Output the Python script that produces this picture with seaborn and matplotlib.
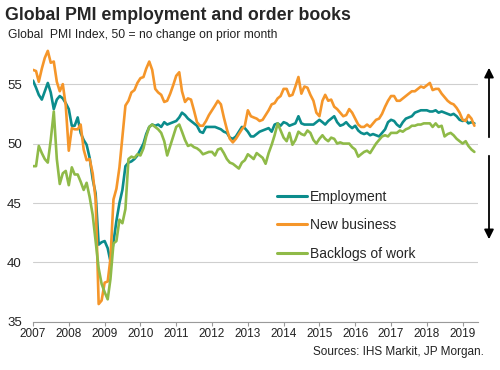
import matplotlib
matplotlib.use("Agg")
import matplotlib.pyplot as plt
import matplotlib.dates as mdates
import numpy as np
import pandas as pd
import seaborn as sns

# Global PMI sub-indices, monthly, Jan 2007 - May 2019
employment = [
    55.3, 54.7, 54.1, 53.7, 54.4, 55.1, 54.3, 52.9, 53.7, 54.0, 53.8, 53.4,  # 2007
    52.9, 51.5, 51.5, 52.2, 50.9, 50.3, 49.9, 48.8, 47.0, 45.8, 41.5, 41.7,  # 2008
    41.8, 41.2, 40.1, 41.7, 43.5, 45.0, 46.1, 48.1, 48.4, 48.5, 48.7, 49.0,  # 2009
    49.5, 50.0, 50.8, 51.4, 51.6, 51.5, 51.6, 51.4, 51.8, 51.6, 51.7, 51.8,  # 2010
    51.9, 52.2, 52.6, 52.4, 52.1, 51.9, 51.7, 51.5, 51.0, 50.9, 51.4, 51.4,  # 2011
    51.4, 51.4, 51.3, 51.2, 51.0, 50.9, 50.5, 50.4, 50.6, 51.0, 51.4, 51.3,  # 2012
    51.0, 50.6, 50.6, 50.8, 51.0, 51.1, 51.2, 51.3, 51.0, 51.6, 51.7, 51.5,  # 2013
    51.8, 51.7, 51.5, 51.6, 51.7, 52.3, 51.7, 51.6, 51.6, 51.6, 51.6, 51.8,  # 2014
    52.0, 51.8, 51.6, 51.9, 52.1, 52.3, 51.8, 51.5, 51.6, 51.8, 51.5, 51.3,  # 2015
    51.5, 51.1, 50.9, 50.8, 50.9, 50.7, 50.8, 50.7, 50.6, 50.9, 51.2, 51.8,  # 2016
    52.0, 51.9, 51.6, 51.4, 51.8, 52.1, 52.2, 52.3, 52.6, 52.7, 52.8, 52.8,  # 2017
    52.8, 52.7, 52.7, 52.8, 52.6, 52.7, 52.6, 52.5, 52.4, 52.5, 52.3, 52.0,  # 2018
    51.9, 52.0, 51.7, 51.8, 51.7,                                            # 2019
]

new_business = [
    56.2, 56.1, 55.2, 56.3, 57.2, 57.8, 56.8, 56.9, 55.2, 54.4, 55.0, 53.2,
    49.4, 51.3, 51.2, 51.2, 51.6, 49.5, 48.6, 48.7, 47.5, 45.3, 36.5, 36.8,
    38.3, 38.4, 40.3, 45.3, 46.2, 48.0, 50.6, 53.2, 53.6, 54.3, 54.5, 55.1,
    55.5, 55.6, 56.3, 56.9, 56.2, 54.6, 54.3, 54.1, 53.5, 53.6, 54.2, 54.9,
    55.7, 56.0, 54.4, 53.5, 53.8, 53.7, 52.8, 51.8, 51.5, 51.5, 51.9, 52.4,
    52.8, 53.2, 53.6, 53.3, 52.2, 51.2, 50.4, 50.1, 50.4, 50.8, 51.2, 51.5,
    52.8, 52.3, 52.2, 52.1, 51.9, 52.0, 52.4, 52.8, 53.3, 53.4, 53.8, 54.0,
    54.6, 54.6, 54.0, 54.1, 54.8, 55.6, 54.2, 54.8, 54.7, 54.1, 53.6, 52.6,
    52.3, 53.6, 54.1, 53.6, 53.7, 53.1, 52.9, 52.6, 52.3, 52.4, 52.9, 52.6,
    52.1, 51.6, 51.4, 51.4, 51.6, 51.4, 51.7, 52.0, 52.1, 52.5, 53.1, 53.6,
    54.0, 54.0, 53.6, 53.6, 53.8, 54.0, 54.2, 54.4, 54.4, 54.6, 54.8, 54.7,
    54.9, 55.1, 54.5, 54.6, 54.6, 54.2, 53.9, 53.6, 53.4, 53.3, 53.0, 52.6,
    52.0, 51.9, 52.4, 52.1, 51.5,
]

backlogs = [
    48.1, 48.1, 49.8, 49.2, 48.7, 48.4, 50.3, 52.7, 48.7, 46.6, 47.5, 47.7,
    46.5, 48.0, 47.4, 47.4, 46.8, 46.1, 46.7, 45.5, 44.0, 41.8, 39.5, 38.2,
    37.5, 36.9, 38.6, 41.6, 41.8, 43.6, 43.3, 44.5, 48.7, 48.9, 48.8, 49.1,
    49.0, 49.6, 50.6, 51.4, 51.6, 51.4, 51.2, 50.9, 50.2, 49.0, 49.8, 50.6,
    51.4, 51.6, 51.0, 50.3, 49.8, 49.9, 49.7, 49.6, 49.4, 49.1, 49.2, 49.3,
    49.3, 49.0, 49.5, 49.6, 49.2, 48.7, 48.4, 48.3, 48.1, 47.9, 48.4, 48.6,
    49.1, 48.9, 48.7, 49.2, 49.0, 48.8, 48.3, 49.2, 49.9, 50.7, 51.7, 51.1,
    50.5, 50.2, 50.9, 49.9, 50.3, 51.0, 50.8, 50.7, 51.1, 50.9, 50.3, 50.0,
    50.4, 50.7, 50.4, 50.2, 50.5, 50.4, 50.0, 50.1, 50.0, 50.0, 50.0, 49.7,
    49.5, 48.9, 49.1, 49.3, 49.4, 49.2, 49.6, 50.0, 50.3, 50.6, 50.7, 50.6,
    50.9, 50.9, 50.9, 51.1, 51.0, 51.2, 51.3, 51.5, 51.5, 51.6, 51.6, 51.7,
    51.7, 51.7, 51.4, 51.7, 51.4, 51.5, 50.6, 50.8, 50.9, 50.7, 50.4, 50.2,
    50.0, 50.2, 49.8, 49.5, 49.3,
]

series_names = ["Employment", "New business", "Backlogs of work"]
colors = ["#0b8c8c", "#f5962a", "#8fba48"]
years = list(range(2007, 2020))

dates = pd.date_range("2007-01-01", periods=len(employment), freq="MS")
df = pd.DataFrame({"date": dates,
                   "Employment": employment,
                   "New business": new_business,
                   "Backlogs of work": backlogs})
long_df = df.melt(id_vars="date", var_name="series", value_name="value")

sns.set_style("white")
plt.rcParams["font.family"] = ["Liberation Sans", "DejaVu Sans"]

fig = plt.figure(figsize=(5, 3.7), dpi=100)
ax = fig.add_axes([0.066, 0.13, 0.89, 0.739])

sns.lineplot(data=long_df, x="date", y="value", hue="series",
             hue_order=series_names, palette=colors, linewidth=1.9, ax=ax)

ax.set_ylim(35, 58)
ax.set_yticks([35, 40, 45, 50, 55])
ax.set_xlim(pd.Timestamp("2007-01-01"), pd.Timestamp("2019-06-07"))
ax.set_xticks([pd.Timestamp(f"{y}-01-01") for y in years])
ax.xaxis.set_major_formatter(mdates.DateFormatter("%Y"))
ax.set_xlabel("")
ax.set_ylabel("")

ax.grid(axis="y", color="#cfcfcf", linewidth=0.8)
ax.grid(axis="x", visible=False)
ax.set_axisbelow(True)
for side in ["top", "right", "left"]:
    ax.spines[side].set_visible(False)
ax.spines["bottom"].set_color("#9a9a9a")
ax.spines["bottom"].set_linewidth(0.8)
ax.tick_params(axis="x", length=3, width=0.8, color="#9a9a9a", pad=1.5,
               labelsize=8.5, labelcolor="#222222", bottom=True)
ax.tick_params(axis="y", length=0, pad=8, labelsize=9.5, labelcolor="#222222")

leg = ax.legend(loc="upper left", bbox_to_anchor=(0.548, 0.484), frameon=False,
                fontsize=10, handlelength=2.2, handletextpad=0.2,
                labelspacing=1.05, borderpad=0, borderaxespad=0)
for line in leg.get_lines():
    line.set_linewidth(2.2)

fig.text(0.01, 0.947, "Global PMI employment and order books",
         fontsize=12.8, fontweight="bold", va="baseline", ha="left")
fig.text(0.016, 0.906, "Global  PMI Index, 50 = no change on prior month",
         fontsize=8.7, va="center", ha="left", color="#222222")
fig.text(0.967, 0.049, "Sources: IHS Markit, JP Morgan.",
         fontsize=8.5, va="center", ha="right", color="#222222")

# direction arrows on the right edge
arrow_kw = dict(arrowstyle="-|>", color="black", lw=1.3, mutation_scale=14)
ax.annotate("", xy=(489 / 500, 1 - 65 / 370), xytext=(489 / 500, 1 - 140 / 370),
            xycoords="figure fraction", textcoords="figure fraction",
            arrowprops=arrow_kw, annotation_clip=False)
ax.annotate("", xy=(489 / 500, 1 - 242 / 370), xytext=(489 / 500, 1 - 153 / 370),
            xycoords="figure fraction", textcoords="figure fraction",
            arrowprops=arrow_kw, annotation_clip=False)

fig.savefig("out.png", dpi=100)
